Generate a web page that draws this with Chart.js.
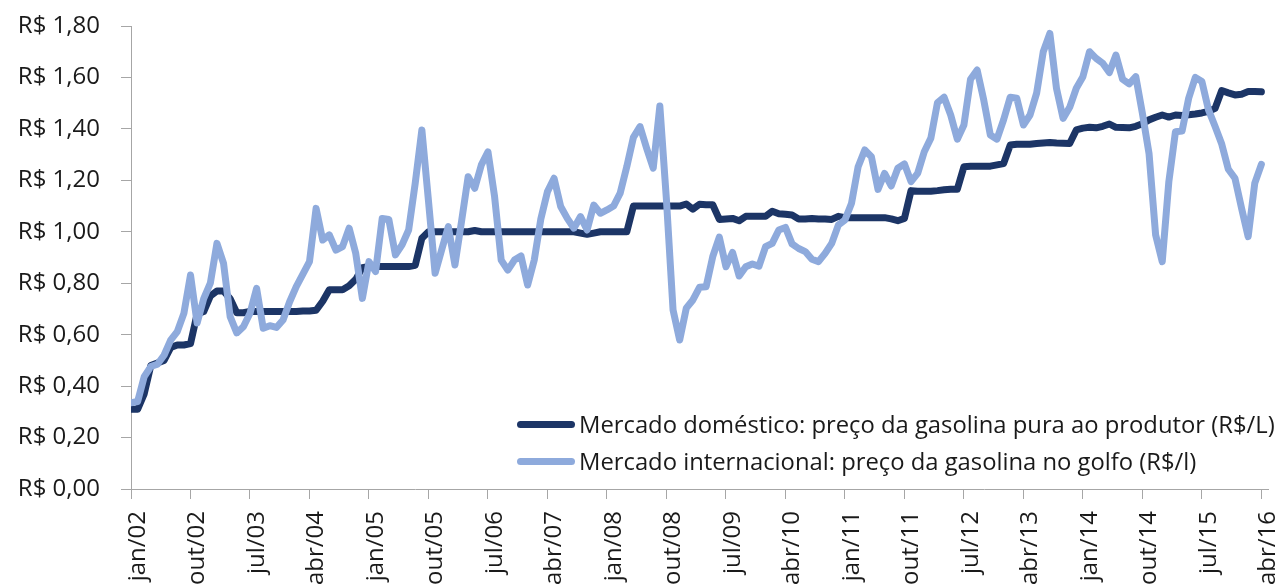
<!DOCTYPE html>
<html>
<head>
<meta charset="utf-8">
<script src="https://cdn.jsdelivr.net/npm/chart.js@4.4.1/dist/chart.umd.min.js"></script>
<style>
  html, body { margin: 0; padding: 0; background: #fff; overflow: hidden; }
  #wrap { position: relative; width: 1277px; height: 586px; }
  #legend { position: absolute; left: 517px; top: 406px; font: 23.8px 'Open Sans', sans-serif; color: #1a1a1a; }
  .row { display: flex; align-items: center; height: 36.7px; white-space: nowrap; }
  .swatch { width: 58px; height: 7px; border-radius: 4px; margin-right: 4px; }
</style>
</head>
<body>
<div id="wrap">
  <canvas id="chart" width="1277" height="586"></canvas>
  <div id="legend"></div>
</div>
<script>
// months jan/02 .. mai/16 (last category has no data, as in the original axis)
const monthNames = ['jan','fev','mar','abr','mai','jun','jul','ago','set','out','nov','dez'];
const firstYear = 2002;
const monthCount = 173;

const seriesNames = [
  'Mercado doméstico: preço da gasolina pura ao produtor (R$/L)',
  'Mercado internacional: preço da gasolina no golfo (R$/l)'
];

// R$/litro, one row per year
const domestico = [
  0.31,0.31,0.37,0.48,0.49,0.50,0.55,0.56,0.56,0.565,0.68,0.69,
  0.75,0.77,0.77,0.74,0.685,0.685,0.69,0.69,0.69,0.69,0.69,0.69,
  0.69,0.69,0.692,0.692,0.695,0.73,0.775,0.775,0.775,0.79,0.815,0.86,
  0.865,0.865,0.865,0.865,0.865,0.865,0.865,0.87,0.975,1.00,1.00,1.00,
  1.00,1.00,1.00,1.00,1.005,1.00,1.00,1.00,1.00,1.00,1.00,1.00,
  1.00,1.00,1.00,1.00,1.00,1.00,1.00,1.00,0.995,0.99,0.995,1.00,
  1.00,1.00,1.00,1.00,1.10,1.10,1.10,1.10,1.10,1.10,1.10,1.10,
  1.108,1.088,1.107,1.105,1.105,1.048,1.05,1.052,1.043,1.06,1.06,1.06,
  1.06,1.08,1.07,1.068,1.065,1.05,1.05,1.052,1.05,1.05,1.048,1.06,
  1.055,1.055,1.055,1.055,1.055,1.055,1.055,1.05,1.043,1.052,1.16,1.158,
  1.158,1.158,1.16,1.163,1.165,1.165,1.253,1.255,1.255,1.255,1.255,1.26,
  1.265,1.337,1.34,1.34,1.34,1.343,1.345,1.347,1.345,1.344,1.343,1.396,
  1.403,1.406,1.404,1.41,1.419,1.406,1.405,1.404,1.41,1.42,1.435,1.445,
  1.454,1.446,1.454,1.452,1.455,1.458,1.462,1.468,1.48,1.549,1.54,1.532,
  1.535,1.545,1.545,1.544
];

const internacional = [
  0.335,0.34,0.437,0.476,0.485,0.52,0.579,0.612,0.683,0.832,0.645,0.74,
  0.80,0.955,0.877,0.67,0.607,0.631,0.683,0.78,0.625,0.635,0.628,0.657,
  0.728,0.787,0.835,0.884,1.091,0.968,0.988,0.929,0.942,1.014,0.916,0.741,
  0.884,0.845,1.052,1.048,0.91,0.949,1.007,1.19,1.396,1.12,0.839,0.93,
  1.02,0.871,1.04,1.214,1.169,1.26,1.311,1.137,0.89,0.851,0.89,0.906,
  0.793,0.89,1.05,1.156,1.208,1.098,1.052,1.014,1.059,1.007,1.104,1.072,
  1.085,1.10,1.15,1.253,1.367,1.409,1.325,1.247,1.489,1.124,0.696,0.579,
  0.703,0.735,0.784,0.786,0.903,0.979,0.864,0.92,0.828,0.864,0.875,0.866,
  0.942,0.955,1.007,1.017,0.953,0.935,0.923,0.893,0.884,0.916,0.955,1.026,
  1.046,1.111,1.253,1.318,1.292,1.165,1.227,1.178,1.247,1.264,1.195,1.227,
  1.311,1.364,1.502,1.523,1.454,1.36,1.415,1.593,1.629,1.512,1.376,1.36,
  1.435,1.523,1.519,1.415,1.454,1.539,1.70,1.771,1.558,1.441,1.484,1.558,
  1.603,1.70,1.674,1.655,1.619,1.687,1.593,1.575,1.603,1.46,1.305,0.988,
  0.884,1.195,1.389,1.392,1.519,1.60,1.584,1.474,1.409,1.341,1.243,1.208,
  1.091,0.981,1.189,1.262
];

const yTicks = [0, 0.2, 0.4, 0.6, 0.8, 1.0, 1.2, 1.4, 1.6, 1.8];
const labelEvery = 9;

const colors = ['#1c3566', '#8eaadc'];
const axisColor = '#a6a6a6';
const textColor = '#1a1a1a';

const labels = [];
for (let i = 0; i < monthCount; i++) {
  const yy = String((firstYear + Math.floor(i / 12)) % 100).padStart(2, '0');
  labels.push(monthNames[i % 12] + '/' + yy);
}

Chart.defaults.font.family = "'Open Sans', sans-serif";
Chart.defaults.font.size = 24;
Chart.defaults.color = textColor;

const lineStyle = {
  borderWidth: 7,
  pointRadius: 0,
  pointHoverRadius: 0,
  tension: 0,
  fill: false,
  borderCapStyle: 'round',
  borderJoinStyle: 'round',
  clip: { left: 0, top: 6, right: 6, bottom: 6 },
};

new Chart(document.getElementById('chart'), {
  type: 'line',
  data: {
    labels,
    datasets: [
      { ...lineStyle, label: seriesNames[0], data: domestico, borderColor: colors[0], backgroundColor: colors[0], order: 2 },
      { ...lineStyle, label: seriesNames[1], data: internacional, borderColor: colors[1], backgroundColor: colors[1], order: 1 },
    ]
  },
  options: {
    responsive: false,
    animation: false,
    devicePixelRatio: 1,
    layout: { padding: { top: 26, right: 9, left: 0, bottom: 0 } },
    plugins: { legend: { display: false }, tooltip: { enabled: false } },
    scales: {
      x: {
        offset: false,
        border: { color: axisColor, width: 1 },
        grid: {
          drawOnChartArea: false,
          tickLength: 10,
          tickColor: (c) => (c.index % labelEvery === 0 ? axisColor : 'rgba(0,0,0,0)'),
        },
        ticks: {
          autoSkip: false,
          minRotation: 90,
          maxRotation: 90,
          padding: 12,
          labelOffset: 7,
          callback: (v, i) => (i % labelEvery === 0 ? labels[i] : ''),
        },
        afterFit: (s) => { s.height = 97; s.paddingLeft = 0; s.paddingRight = 0; },
      },
      y: {
        min: 0,
        max: 1.8,
        border: { color: axisColor, width: 1 },
        grid: { drawOnChartArea: false, tickLength: 10, tickColor: axisColor },
        afterBuildTicks: (s) => { s.ticks = yTicks.map(v => ({ value: v })); },
        ticks: {
          padding: 21,
          callback: (v) => 'R$ ' + Number(v).toFixed(2).replace('.', ','),
        },
        afterFit: (s) => { s.width = 131; s.paddingTop = 0; s.paddingBottom = 0; },
      }
    }
  }
});

// legend inside the plot, as in the original
const legend = document.getElementById('legend');
seriesNames.forEach((name, i) => {
  const row = document.createElement('div');
  row.className = 'row';
  const sw = document.createElement('span');
  sw.className = 'swatch';
  sw.style.background = colors[i];
  const tx = document.createElement('span');
  tx.textContent = name;
  row.appendChild(sw);
  row.appendChild(tx);
  legend.appendChild(row);
});
</script>
</body>
</html>
